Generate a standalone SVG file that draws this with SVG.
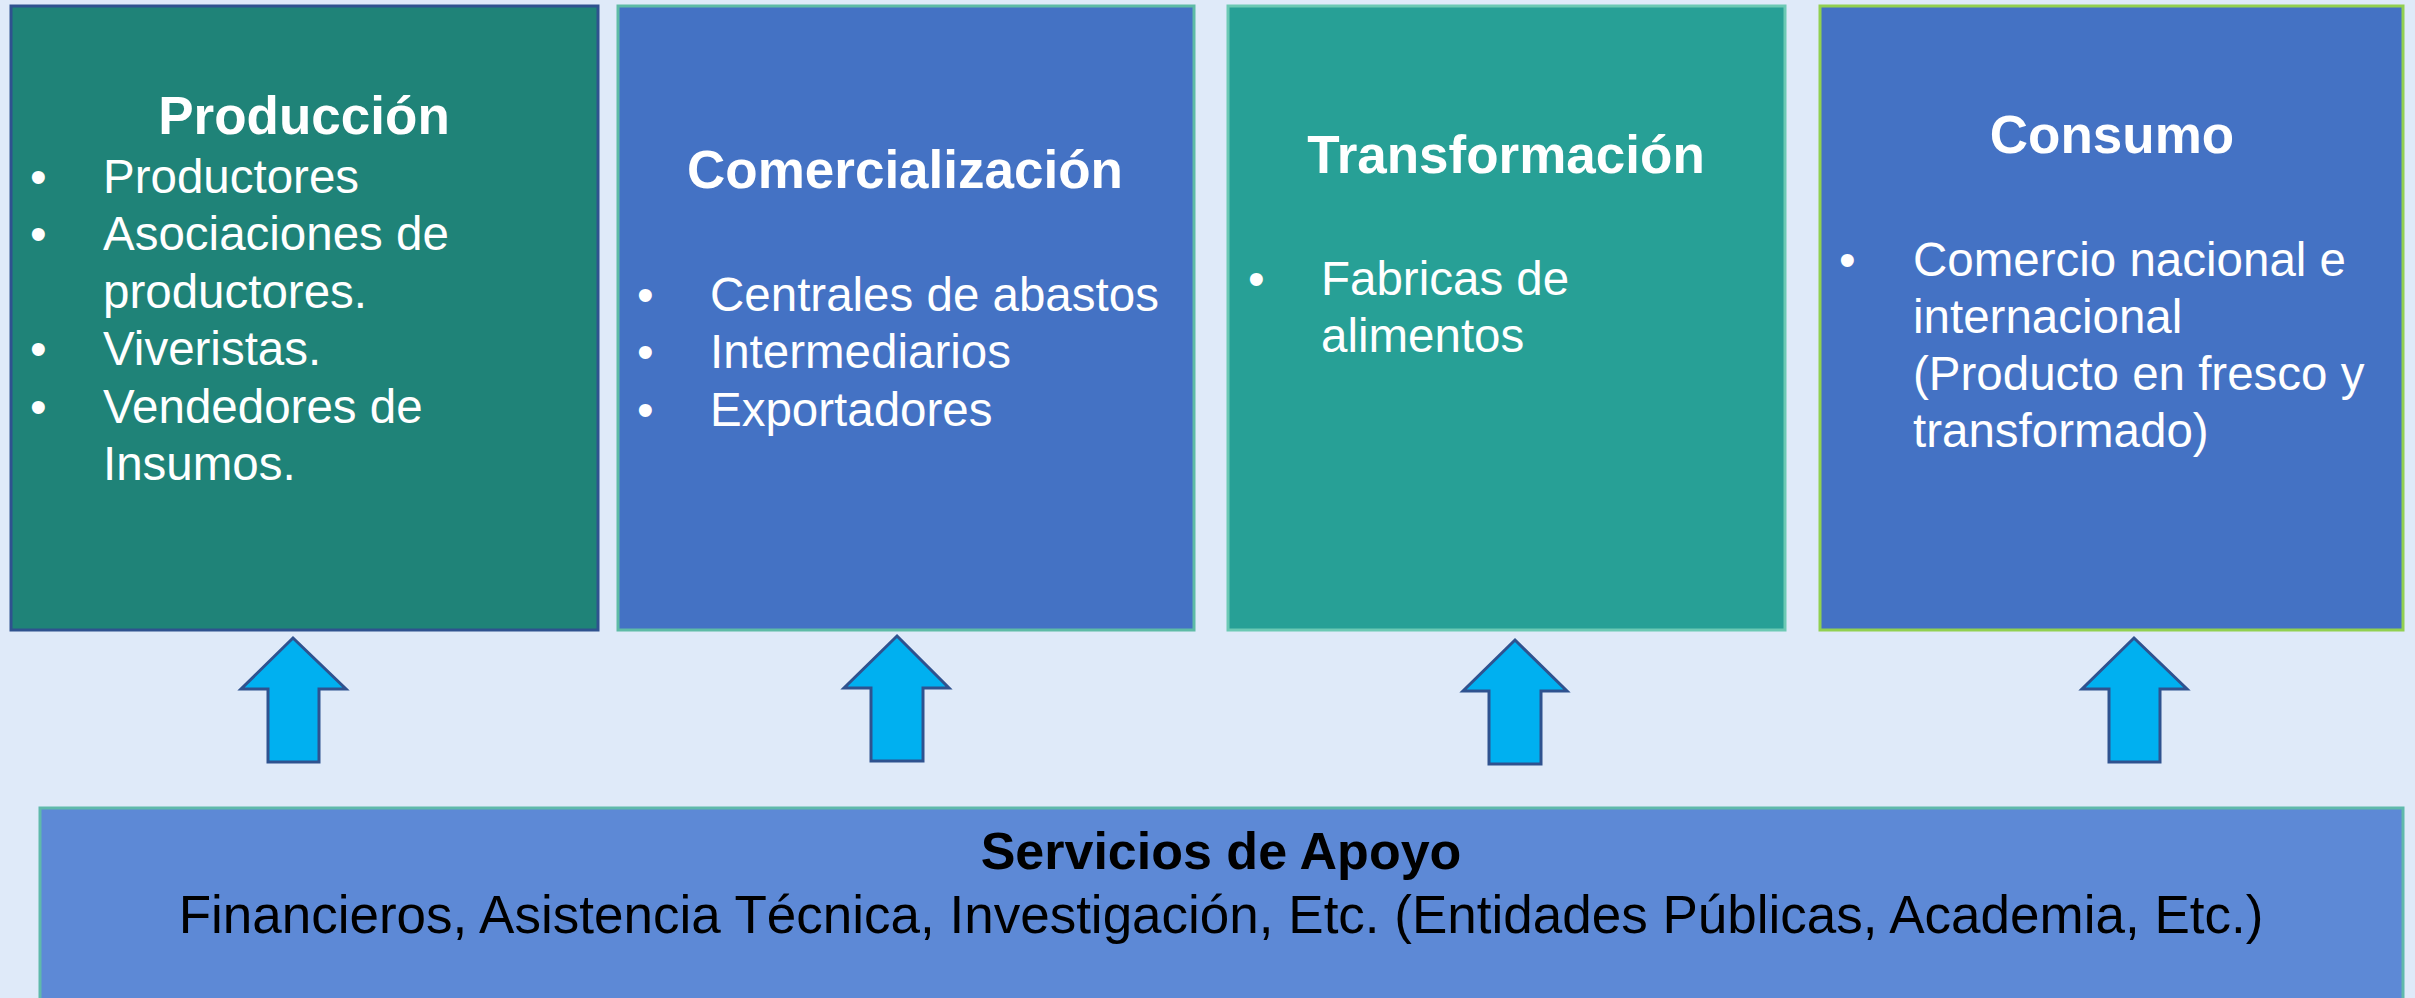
<svg xmlns="http://www.w3.org/2000/svg" width="2415" height="998" viewBox="0 0 2415 998">
<style>
text{font-family:"Liberation Sans",Arial,sans-serif}
.title{font-size:53px;font-weight:bold;fill:#FFFFFF;text-anchor:middle}
.item{font-size:47.5px;fill:#FFFFFF}
.arrow{fill:#00B0F0;stroke:#2F528F;stroke-width:3;stroke-linejoin:miter}
.foot1{font-size:52px;font-weight:bold;fill:#000000;text-anchor:middle}
.foot2{font-size:53px;fill:#000000;text-anchor:middle}
</style>
<rect x="0" y="0" width="2415" height="998" fill="#DFEAF9"/>
<g id="produccion">
<rect x="11" y="6" width="587" height="624" fill="#1F8378" stroke="#2F528F" stroke-width="3"/>
<text class="title" x="304" y="134">Producción</text>
<text class="item" x="30" y="193">•</text><text class="item" x="103" y="193">Productores</text>
<text class="item" x="30" y="250">•</text><text class="item" x="103" y="250">Asociaciones de</text>
<text class="item" x="103" y="308">productores.</text>
<text class="item" x="30" y="365">•</text><text class="item" x="103" y="365">Viveristas.</text>
<text class="item" x="30" y="423">•</text><text class="item" x="103" y="423">Vendedores de</text>
<text class="item" x="103" y="480">Insumos.</text>
</g>
<g id="comercializacion">
<rect x="618" y="6" width="576" height="624" fill="#4472C4" stroke="#5EBBA6" stroke-width="3"/>
<text class="title" x="905" y="188">Comercialización</text>
<text class="item" x="637" y="311">•</text><text class="item" x="710" y="311">Centrales de abastos</text>
<text class="item" x="637" y="368">•</text><text class="item" x="710" y="368">Intermediarios</text>
<text class="item" x="637" y="426">•</text><text class="item" x="710" y="426">Exportadores</text>
</g>
<g id="transformacion">
<rect x="1228" y="6" width="557" height="624" fill="#27A096" stroke="#6CC9B4" stroke-width="3"/>
<text class="title" x="1506" y="173">Transformación</text>
<text class="item" x="1248" y="295">•</text><text class="item" x="1321" y="295">Fabricas de</text>
<text class="item" x="1321" y="352">alimentos</text>
</g>
<g id="consumo">
<rect x="1820" y="6" width="583" height="624" fill="#4472C4" stroke="#92D050" stroke-width="3"/>
<text class="title" x="2112" y="153">Consumo</text>
<text class="item" x="1839" y="276">•</text><text class="item" x="1913" y="276">Comercio nacional e</text>
<text class="item" x="1913" y="333">internacional</text>
<text class="item" x="1913" y="390">(Producto en fresco y</text>
<text class="item" x="1913" y="447">transformado)</text>
</g>
<g id="servicios">
<rect x="40" y="808" width="2363" height="196" fill="#5D89D6" stroke="#5FB9AB" stroke-width="3"/>
<text class="foot1" x="1221" y="869">Servicios de Apoyo</text>
<text class="foot2" x="1221" y="933">Financieros, Asistencia Técnica, Investigación, Etc. (Entidades Públicas, Academia, Etc.)</text>
</g>
<g id="connectors">
<polygon class="arrow" points="293,638 346,689 319,689 319,762 268,762 268,689 241,689"/>
<polygon class="arrow" points="897,636 949,688 923,688 923,761 871,761 871,688 844,688"/>
<polygon class="arrow" points="1515,640 1567,691 1541,691 1541,764 1489,764 1489,691 1463,691"/>
<polygon class="arrow" points="2134,638 2187,689 2160,689 2160,762 2109,762 2109,689 2082,689"/>
</g>
</svg>
